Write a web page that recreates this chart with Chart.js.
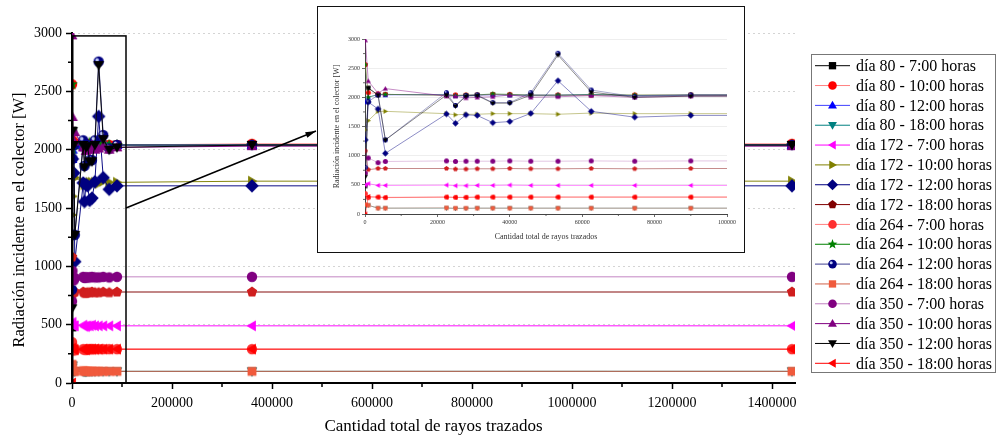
<!DOCTYPE html>
<html>
<head>
<meta charset="utf-8">
<script src="https://cdn.jsdelivr.net/npm/chart.js@4.4.1/dist/chart.umd.min.js"></script>
<style>
body { margin: 0; background: #fff; }
canvas { display: block; }
#wrap { position: relative; width: 996px; height: 439px; }
#inset { position: absolute; left: 317px; top: 6px; width: 426px; height: 245px; border: 1.5px solid #111; background: #fff; }
</style>
</head>
<body>
<div id="wrap">
  <canvas id="mainChart" width="996" height="439"></canvas>
  <div id="inset"><canvas id="insetChart" width="426" height="245"></canvas></div>
</div>
<script>
// total rays traced (x) for each simulation run
var rays = [100, 900, 3600, 5625, 22500, 25000, 27900, 31000, 35300, 40000, 45800, 53300, 62500, 74500, 90000, 360000, 1440000];

var d80_7   = [480, 2160, 2040, 2050, 2040, 2030, 2030, 2040, 2050, 2040, 2030, 2030, 2040, 2030, 2040, 2040, 2040];
var d80_10  = [2560, 2080, 2060, 2050, 2040, 2040, 2040, 2040, 2050, 2050, 2040, 2040, 2040, 2040, 2040, 2050, 2050];
var d80_12  = [1920, 2000, 2050, 2040, 2050, 2030, 2030, 2040, 2040, 2040, 2040, 2040, 2050, 2030, 2040, 2040, 2040];
var d80_18  = [130, 150, 100, 100, 100, 95, 95, 100, 100, 100, 100, 100, 100, 100, 100, 100, 100];
var d172_7  = [500, 520, 490, 490, 495, 485, 485, 490, 490, 495, 490, 490, 490, 490, 490, 490, 490];
var d172_10 = [1440, 1600, 1760, 1760, 1720, 1700, 1710, 1710, 1720, 1720, 1720, 1710, 1730, 1720, 1720, 1730, 1730];
var d172_12 = [1270, 1920, 1800, 1040, 1715, 1555, 1700, 1690, 1565, 1585, 1725, 2285, 1760, 1660, 1690, 1690, 1690];
var d172_18 = [1080, 760, 780, 780, 780, 770, 770, 775, 775, 780, 775, 775, 780, 775, 780, 780, 780];
var d264_7  = [350, 280, 290, 280, 290, 285, 285, 290, 290, 290, 290, 290, 290, 290, 290, 290, 290];
var d264_10 = [2560, 2000, 2050, 2050, 2040, 2030, 2040, 2040, 2060, 2050, 2040, 2040, 2050, 2040, 2040, 2040, 2040];
var d264_12 = [800, 1925, 2040, 1270, 2080, 1860, 2030, 2040, 1910, 1910, 2080, 2755, 2125, 2010, 2040, 2040, 2040];
var d264_18 = [160, 150, 100, 100, 105, 100, 100, 100, 100, 100, 100, 100, 100, 100, 100, 100, 100];
var d350_7  = [700, 960, 880, 900, 910, 900, 905, 905, 905, 910, 905, 905, 910, 905, 910, 910, 910];
var d350_10 = [2980, 2280, 2070, 2150, 2020, 2020, 1990, 2000, 2010, 2040, 2000, 2010, 2030, 2000, 2020, 2030, 2030];
var d350_12 = [640, 2160, 2040, 1270, 2040, 1850, 2020, 2030, 1900, 1900, 2040, 2725, 2090, 2000, 2020, 2040, 2040];
var d350_18 = [0, 300, 290, 285, 290, 285, 285, 290, 290, 290, 290, 290, 290, 290, 290, 290, 290];

var seriesNames = ['día 80 - 7:00 horas', 'día 80 - 10:00 horas', 'día 80 - 12:00 horas', 'día 80 - 18:00 horas',
  'día 172 - 7:00 horas', 'día 172 - 10:00 horas', 'día 172 - 12:00 horas', 'día 172 - 18:00 horas',
  'día 264 - 7:00 horas', 'día 264 - 10:00 horas', 'día 264 - 12:00 horas', 'día 264 - 18:00 horas',
  'día 350 - 7:00 horas', 'día 350 - 10:00 horas', 'día 350 - 12:00 horas', 'día 350 - 18:00 horas'];
var seriesValues = [d80_7, d80_10, d80_12, d80_18, d172_7, d172_10, d172_12, d172_18,
  d264_7, d264_10, d264_12, d264_18, d350_7, d350_10, d350_12, d350_18];

var yTicks = [0, 500, 1000, 1500, 2000, 2500, 3000];
var xTicksMain = [0, 200000, 400000, 600000, 800000, 1000000, 1200000, 1400000];
var xTicksInset = [0, 20000, 40000, 60000, 80000, 100000];

// styles
var shapes = ['square', 'circle', 'triUp', 'triDown', 'triLeft', 'triRight', 'diamond', 'pentagon',
  'circle', 'star', 'ball', 'square', 'circle', 'triUp', 'triDown', 'triLeft'];
var markerColors = ['#000000', '#ff0000', '#0000ff', '#008080', '#ff00ff', '#808000', '#000080', '#d01e1e',
  '#ff3030', '#008000', '#000080', '#f05a3c', '#800080', '#800080', '#000000', '#ff0000'];
var lineColors = ['#000000', '#ff8080', '#4040ff', '#008080', '#ff00ff', '#808000', '#000080', '#800000',
  '#ff8080', '#008000', '#404090', '#d06048', '#c080c0', '#800080', '#000000', '#ff0000'];

var SERIF = '"Liberation Serif", "Times New Roman", serif';

function polygon(ctx, cx, cy, r, n, rot) {
  for (var k = 0; k < n; k++) {
    var a = (rot + k * 360 / n) * Math.PI / 180;
    var px = cx + r * Math.sin(a), py = cy - r * Math.cos(a);
    if (k === 0) ctx.moveTo(px, py); else ctx.lineTo(px, py);
  }
  ctx.closePath();
}

function drawMarker(ctx, shape, color, cx, cy, r) {
  ctx.save();
  ctx.fillStyle = color;
  ctx.beginPath();
  if (shape === 'square') {
    var s = r * 1.7;
    ctx.rect(cx - s / 2, cy - s / 2, s, s);
  } else if (shape === 'circle' || shape === 'ball') {
    ctx.arc(cx, cy, r, 0, Math.PI * 2);
  } else if (shape === 'triUp') {
    polygon(ctx, cx, cy + r * 0.15, r * 1.2, 3, 0);
  } else if (shape === 'triDown') {
    polygon(ctx, cx, cy - r * 0.15, r * 1.2, 3, 180);
  } else if (shape === 'triLeft') {
    polygon(ctx, cx + r * 0.15, cy, r * 1.2, 3, 270);
  } else if (shape === 'triRight') {
    polygon(ctx, cx - r * 0.15, cy, r * 1.2, 3, 90);
  } else if (shape === 'diamond') {
    polygon(ctx, cx, cy, r * 1.3, 4, 0);
  } else if (shape === 'pentagon') {
    polygon(ctx, cx, cy, r * 1.05, 5, 0);
  } else if (shape === 'star') {
    for (var k = 0; k < 10; k++) {
      var a = k * 36 * Math.PI / 180;
      var rr = k % 2 === 0 ? r * 1.2 : r * 0.5;
      var px = cx + rr * Math.sin(a), py = cy - rr * Math.cos(a);
      if (k === 0) ctx.moveTo(px, py); else ctx.lineTo(px, py);
    }
    ctx.closePath();
  }
  ctx.fill();
  if (shape === 'ball') {
    ctx.beginPath();
    ctx.fillStyle = 'rgba(210,220,255,0.9)';
    ctx.arc(cx - r * 0.3, cy - r * 0.3, r * 0.35, 0, Math.PI * 2);
    ctx.fill();
  }
  ctx.restore();
}

function markerImage(shape, color, r) {
  var c = document.createElement('canvas');
  var s = Math.ceil(2 * r * 1.3 + 2);
  c.width = s; c.height = s;
  drawMarker(c.getContext('2d'), shape, color, s / 2, s / 2, r);
  return c;
}

function withAlpha(hex, a) {
  var n = parseInt(hex.slice(1), 16);
  return 'rgba(' + (n >> 16 & 255) + ',' + (n >> 8 & 255) + ',' + (n & 255) + ',' + a + ')';
}

function buildSets(r, lineAlpha, lw) {
  var out = [];
  // reversed so the first series ends up drawn first (underneath)
  for (var i = seriesValues.length - 1; i >= 0; i--) {
    out.push({
      label: seriesNames[i],
      data: rays.map(function (x, j) { return { x: x, y: seriesValues[i][j] }; }),
      showLine: true,
      borderColor: withAlpha(lineColors[i], lineAlpha),
      borderWidth: lw,
      pointStyle: markerImage(shapes[i], markerColors[i], r),
      pointRadius: r,
      pointHoverRadius: r,
      tension: 0
    });
  }
  return out;
}

function fixedTicks(list) {
  return function (scale) {
    scale.ticks = list.map(function (v) { return { value: v }; });
  };
}

// minor ticks, y title, zoom box, arrow and legend on the main chart
var mainDeco = {
  id: 'mainDeco',
  afterDraw: function (chart) {
    var ctx = chart.ctx, xs = chart.scales.x, ys = chart.scales.y, a = chart.chartArea;
    ctx.save();
    ctx.strokeStyle = '#000';
    ctx.lineWidth = 1.5;
    ctx.beginPath();
    for (var v = 250; v < 3000; v += 500) {
      var py = ys.getPixelForValue(v);
      ctx.moveTo(a.left - 4, py); ctx.lineTo(a.left, py);
    }
    for (var xv = 100000; xv < 1446000; xv += 200000) {
      var px = xs.getPixelForValue(xv);
      ctx.moveTo(px, a.bottom); ctx.lineTo(px, a.bottom + 4);
    }
    ctx.stroke();

    // y axis title
    ctx.save();
    ctx.translate(20, 220);
    ctx.rotate(-Math.PI / 2);
    ctx.font = '16.5px ' + SERIF;
    ctx.fillStyle = '#000';
    ctx.textAlign = 'center';
    ctx.textBaseline = 'middle';
    ctx.fillText('Radiación incidente en el colector [W]', 0, 0);
    ctx.restore();

    // zoom rectangle
    var x0 = xs.getPixelForValue(1500), x1 = xs.getPixelForValue(108000);
    var y0 = ys.getPixelForValue(2975), y1 = ys.getPixelForValue(0);
    ctx.lineWidth = 1.5;
    ctx.strokeRect(x0, y0, x1 - x0, y1 - y0);

    // arrow to inset
    var sx = x1, sy = ys.getPixelForValue(1500), ex = 316, ey = 131;
    ctx.beginPath();
    ctx.moveTo(sx, sy); ctx.lineTo(ex, ey);
    ctx.stroke();
    var ang = Math.atan2(ey - sy, ex - sx);
    ctx.beginPath();
    ctx.moveTo(ex, ey);
    ctx.lineTo(ex - 11 * Math.cos(ang - 0.28), ey - 11 * Math.sin(ang - 0.28));
    ctx.lineTo(ex - 11 * Math.cos(ang + 0.28), ey - 11 * Math.sin(ang + 0.28));
    ctx.closePath();
    ctx.fillStyle = '#000';
    ctx.fill();

    // legend
    var lx = 811, ly = 54, lw = 184, lh = 318;
    ctx.fillStyle = '#fff';
    ctx.fillRect(lx, ly, lw, lh);
    ctx.strokeStyle = '#777';
    ctx.lineWidth = 1;
    ctx.strokeRect(lx + 0.5, ly + 0.5, lw, lh);
    ctx.font = '16px ' + SERIF;
    ctx.textBaseline = 'middle';
    for (var i = 0; i < seriesNames.length; i++) {
      var ry = 65.7 + i * 19.84;
      ctx.strokeStyle = lineColors[i];
      ctx.lineWidth = 1;
      ctx.beginPath();
      ctx.moveTo(815, ry); ctx.lineTo(850, ry);
      ctx.stroke();
      drawMarker(ctx, shapes[i], i === 7 ? '#800000' : markerColors[i], 832.5, ry, 4.3);
      ctx.fillStyle = '#000';
      ctx.fillText(seriesNames[i], 856, ry + 1);
    }
    ctx.restore();
  }
};

var insetDeco = {
  id: 'insetDeco',
  afterDraw: function (chart) {
    var ctx = chart.ctx, xs = chart.scales.x, ys = chart.scales.y, a = chart.chartArea;
    ctx.save();
    ctx.strokeStyle = '#444';
    ctx.lineWidth = 0.8;
    ctx.beginPath();
    for (var v = 250; v < 3000; v += 500) {
      var py = ys.getPixelForValue(v);
      ctx.moveTo(a.left - 2, py); ctx.lineTo(a.left, py);
    }
    for (var xv = 10000; xv < 100000; xv += 20000) {
      var px = xs.getPixelForValue(xv);
      ctx.moveTo(px, a.bottom); ctx.lineTo(px, a.bottom + 2);
    }
    ctx.stroke();
    ctx.restore();
  }
};

new Chart(document.getElementById('mainChart').getContext('2d'), {
  type: 'scatter',
  data: { datasets: buildSets(5.2, 0.95, 1) },
  options: {
    responsive: false,
    animation: false,
    events: [],
    layout: { padding: { top: 33, right: 201, left: 0, bottom: 0 } },
    plugins: { legend: { display: false }, tooltip: { enabled: false } },
    scales: {
      x: {
        type: 'linear', min: 0, max: 1446000,
        afterFit: function (s) { s.height = 56; },
        afterBuildTicks: fixedTicks(xTicksMain),
        ticks: { color: '#000', font: { family: SERIF, size: 14 }, padding: 6, maxRotation: 0, autoSkip: false,
          callback: function (v) { return String(v); } },
        grid: { drawOnChartArea: false, tickLength: 6, tickColor: '#000', tickWidth: 1.5 },
        border: { color: '#000', width: 2 },
        title: { display: true, text: 'Cantidad total de rayos trazados', color: '#000',
          font: { family: SERIF, size: 17 }, padding: { top: 0, bottom: 2 } }
      },
      y: {
        min: 0, max: 3000,
        afterFit: function (s) { s.width = 72; },
        afterBuildTicks: fixedTicks(yTicks),
        ticks: { color: '#000', font: { family: SERIF, size: 14 }, padding: 4,
          callback: function (v) { return String(v); } },
        grid: { color: '#d4d4d4', tickLength: 6, tickColor: '#000', tickWidth: 1.5, tickBorderDash: [] },
        border: { color: '#000', width: 2, dash: [2, 3] }
      }
    }
  },
  plugins: [mainDeco]
});

new Chart(document.getElementById('insetChart').getContext('2d'), {
  type: 'scatter',
  data: { datasets: buildSets(2.5, 0.45, 1) },
  options: {
    responsive: false,
    animation: false,
    events: [],
    layout: { padding: { top: 32, right: 17, left: 0, bottom: 0 } },
    plugins: { legend: { display: false }, tooltip: { enabled: false } },
    scales: {
      x: {
        type: 'linear', min: 0, max: 100000,
        afterFit: function (s) { s.height = 38; },
        afterBuildTicks: fixedTicks(xTicksInset),
        ticks: { color: '#333', font: { family: SERIF, size: 6 }, padding: 2, maxRotation: 0, autoSkip: false,
          callback: function (v) { return String(v); } },
        grid: { drawOnChartArea: false, tickLength: 3, tickColor: '#444', tickWidth: 0.8 },
        border: { color: '#444', width: 1 },
        title: { display: true, text: 'Cantidad total de rayos trazados', color: '#333',
          font: { family: SERIF, size: 8 }, padding: { top: 0, bottom: 10 } }
      },
      y: {
        min: 0, max: 3000,
        afterFit: function (s) { s.width = 47; },
        afterBuildTicks: fixedTicks(yTicks),
        ticks: { color: '#333', font: { family: SERIF, size: 6 }, padding: 2,
          callback: function (v) { return String(v); } },
        grid: { color: '#eeeeee', tickLength: 3, tickColor: '#444', tickWidth: 0.8, tickBorderDash: [] },
        border: { color: '#444', width: 1 },
        title: { display: true, text: 'Radiación incidente en el colector [W]', color: '#333',
          font: { family: SERIF, size: 8 }, padding: { top: 14, bottom: 0 } }
      }
    }
  },
  plugins: [insetDeco]
});
</script>
</body>
</html>
